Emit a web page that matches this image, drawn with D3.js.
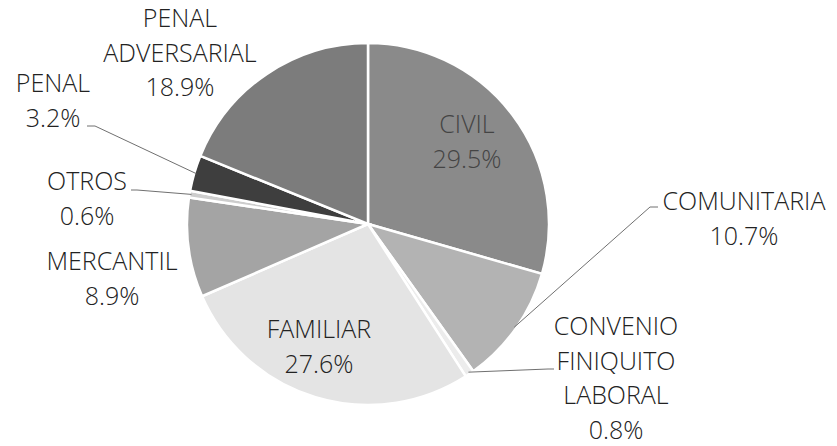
<!DOCTYPE html>
<html lang="es">
<head>
<meta charset="UTF-8">
<title>Distribución por materia</title>
<script src="https://d3js.org/d3.v7.min.js"></script>
<style>
  body { margin: 0; background: #fff; }
  text { font-family: "Open Sans", "DejaVu Sans", sans-serif; font-size: 25px; font-weight: 300; fill: #222; }
</style>
</head>
<body>
<svg id="chart" width="837" height="446"></svg>
<script>
// slice data, clockwise from 12 o'clock
const categories = ["CIVIL", "COMUNITARIA", "CONVENIO FINIQUITO LABORAL", "FAMILIAR",
                    "MERCANTIL", "OTROS", "PENAL", "PENAL ADVERSARIAL"];
const values = [29.5, 10.7, 0.8, 27.6, 8.9, 0.6, 3.2, 18.9];
const percentLabels = ["29.5%", "10.7%", "0.8%", "27.6%", "8.9%", "0.6%", "3.2%", "18.9%"];

// grey shades per slice
const shades = ["#8a8a8a", "#b3b3b3", "#ececec", "#e4e4e4", "#a4a4a4", "#cdcdcd", "#3e3e3e", "#7c7c7c"];

const cx = 368, cy = 224, radius = 181;

// label placement (text center x, first baseline y, leader anchor)
const labelLayout = [
  { x: 467, y: 133, lines: ["CIVIL"], inside: true },
  { x: 744, y: 210, lines: ["COMUNITARIA"], lead: [658, 207, 650] },
  { x: 616, y: 335, lines: ["CONVENIO", "FINIQUITO", "LABORAL"], lead: [554, 369, 548] },
  { x: 319, y: 338, lines: ["FAMILIAR"], inside: true },
  { x: 112, y: 270, lines: ["MERCANTIL"] },
  { x: 87, y: 190, lines: ["OTROS"], lead: [131, 190, 137] },
  { x: 53, y: 92, lines: ["PENAL"], lead: [87, 126, 95] },
  { x: 180, y: 27, lines: ["PENAL", "ADVERSARIAL"] }
];

const svg = d3.select("#chart");
const g = svg.append("g").attr("transform", `translate(${cx},${cy})`);

const pie = d3.pie().sort(null).value(d => d)(values);
const arc = d3.arc().innerRadius(0).outerRadius(radius);
const edge = d3.arc().innerRadius(radius - 2).outerRadius(radius - 2);

g.selectAll("path.slice")
  .data(pie)
  .join("path")
  .attr("class", "slice")
  .attr("d", arc)
  .attr("fill", (d, i) => shades[i])
  .attr("stroke", "#fff")
  .attr("stroke-width", 2.5);

// leader lines: short horizontal at the label, then straight to the slice edge
pie.forEach((d, i) => {
  const L = labelLayout[i];
  if (!L.lead) return;
  const [ex, ey] = edge.centroid(d);
  const pts = [[L.lead[0], L.lead[1]], [L.lead[2], L.lead[1]], [cx + ex, cy + ey]];
  svg.append("path")
    .attr("d", d3.line()(pts))
    .attr("fill", "none")
    .attr("stroke", "#707070")
    .attr("stroke-width", 1);
});

// labels
pie.forEach((d, i) => {
  const L = labelLayout[i];
  const t = svg.append("text")
    .attr("text-anchor", "middle")
    .style("fill", i === 0 ? "#444" : "#222");
  const lines = L.lines.concat([percentLabels[i]]);
  lines.forEach((s, k) => {
    t.append("tspan").attr("x", L.x).attr("y", L.y + k * 34.5).text(s);
  });
});
</script>
</body>
</html>
